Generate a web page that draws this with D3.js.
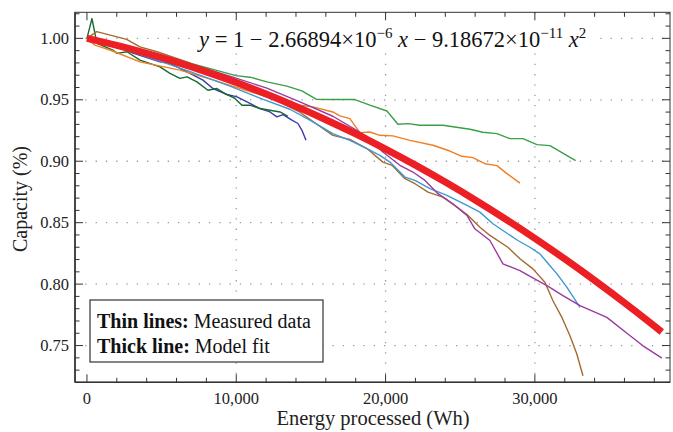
<!DOCTYPE html>
<html><head><meta charset="utf-8">
<script src="https://cdn.jsdelivr.net/npm/d3@7"></script>
<style>
body{margin:0;background:#fff;}
svg{display:block;font-family:"Liberation Serif","Times New Roman",serif;}
</style></head>
<body><svg id="chart" width="673" height="432"></svg>
<script>
// ---- data (x: Energy processed in Wh, y: capacity fraction) ----
const seriesNames = ["indigo","darkgreen","brown","orange","green","lightblue","purple"];
const seriesColors = ["#3b3ba6","#146b2e","#a36a2e","#f27d22","#3c9e47","#3f98d2","#9a3b9e"];
const indigoX = [0,1070,1880,3080,4890,5560,6900,7770,8440,9380,10050,10920,11590,12260,12720,13130,13730,14130,14400,14670];
const indigoY = [1.000,0.999,0.9945,0.988,0.9809,0.9796,0.9715,0.966,0.9592,0.9543,0.9524,0.947,0.9429,0.9401,0.9361,0.938,0.9334,0.9307,0.9252,0.917];
const darkgreenX = [0,335,670,1740,2010,2680,3550,4890,5560,6230,6700,7370,8100,8710,9240,9910,10380,10920,11590,12260,12930,13460];
const darkgreenY = [1.000,1.0161,0.9959,0.9905,0.9878,0.9891,0.9823,0.9768,0.9715,0.9674,0.9687,0.9646,0.9578,0.9592,0.9551,0.9511,0.9456,0.9456,0.9429,0.9415,0.9401,0.9366];
const brownX = [0,650,2660,3550,4690,6700,8910,11590,14260,16470,17610,18750,19820,20430,21300,21970,22840,23840,24780,25520,26320,26990,28190,29000,29870,30670,31210,31810,32350,32810,33220];
const brownY = [1.000,1.0055,0.9992,0.9931,0.9891,0.9809,0.9692,0.9562,0.9399,0.9211,0.9178,0.9103,0.8993,0.8967,0.8858,0.8817,0.8749,0.8708,0.8626,0.8559,0.8463,0.8396,0.83,0.8206,0.8124,0.8015,0.7865,0.7729,0.758,0.7431,0.7254];
const orangeX = [0,536,1540,3550,6230,8040,9980,12050,14260,15140,16470,16940,17610,18280,18950,19620,20490,21630,23170,24310,25110,25850,26650,27460,28130,29000];
const orangeY = [1.000,0.9945,0.9905,0.9809,0.9741,0.9676,0.9603,0.9524,0.9456,0.9442,0.9401,0.9369,0.9347,0.9233,0.9238,0.9211,0.9206,0.917,0.913,0.9083,0.904,0.9029,0.898,0.8964,0.8899,0.8822];
const greenX = [0,870,2210,4220,6900,9980,10920,12050,13390,14400,15340,16270,17950,18950,20090,20830,21500,22300,23840,25650,26520,27460,28330,29200,30140,31010,32730];
const greenY = [1.000,0.996,0.9929,0.9872,0.9799,0.9697,0.9684,0.9646,0.9611,0.9573,0.9505,0.9502,0.9502,0.9456,0.9409,0.9301,0.9306,0.9293,0.9293,0.926,0.9236,0.9225,0.9184,0.9184,0.9135,0.9127,0.9005];
const lightblueX = [0,870,2880,5560,7570,9580,11590,13590,14930,16470,17610,18750,19620,20290,21300,21970,22970,24110,25450,26320,27190,27860,28860,29670,30340,30810,31480,32150,33020];
const lightblueY = [1.000,0.9962,0.9896,0.9786,0.9701,0.9611,0.9513,0.9423,0.9334,0.9225,0.917,0.9103,0.9048,0.8993,0.8871,0.8844,0.8777,0.8722,0.864,0.8586,0.8491,0.8436,0.8355,0.83,0.8246,0.8178,0.8083,0.7974,0.7811];
const purpleX = [0,2210,4220,7570,9780,12050,14260,16470,18750,19820,20960,21830,22640,23510,24510,25450,25980,26990,27860,29000,29800,30810,31880,33020,34820,36230,37240,38510];
const purpleY = [1.000,0.9937,0.9888,0.9768,0.9684,0.9595,0.9483,0.9366,0.9203,0.9075,0.8967,0.8912,0.8844,0.8736,0.8654,0.8559,0.845,0.8355,0.8165,0.811,0.8055,0.7988,0.7906,0.7825,0.7729,0.7594,0.7498,0.7398];
const fitX = [0,2000,4000,6000,8000,10000,12000,14000,16000,18000,20000,22000,24000,26000,28000,30000,32000,34000,36000,38000,38500];
const fitY = [1.0,0.994295,0.987854,0.980679,0.972768,0.964124,0.954744,0.944629,0.933779,0.922194,0.909874,0.896819,0.883029,0.868506,0.853246,0.837252,0.820522,0.803058,0.784858,0.765923,0.761076];
// ticks
const xMajor = [0,10000,20000,30000];
const xMajorLabels = ["0","10,000","20,000","30,000"];
const xMinor = d3.range(0, 39001, 2000);
const yMajor = [0.75,0.80,0.85,0.90,0.95,1.00];
const yMajorLabels = ["0.75","0.80","0.85","0.90","0.95","1.00"];
const yMinor = d3.range(72, 103).map(d => d/100);
const xTitle = "Energy processed (Wh)";
const yTitle = "Capacity (%)";

const seriesX = [indigoX,darkgreenX,brownX,orangeX,greenX,lightblueX,purpleX];
const seriesY = [indigoY,darkgreenY,brownY,orangeY,greenY,lightblueY,purpleY];

// ---- layout ----
const L = 75, R = 670, T = 12.3, B = 382.3;
const svg = d3.select("#chart");
const x = d3.scaleLinear().domain([-800, 39050]).range([L, R]);
const y = d3.scaleLinear().domain([0.7201, 1.0212]).range([B, T]);

// gridlines
const grid = svg.append("g").attr("stroke","#9a9a9a").attr("stroke-width",1.3).attr("stroke-dasharray","1.3,9");
grid.selectAll("line.h").data(yMajor).join("line").attr("class","h")
  .attr("x1",L).attr("x2",R).attr("y1",d=>y(d)).attr("y2",d=>y(d));
grid.selectAll("line.v").data(xMajor.filter(d=>d>0)).join("line").attr("class","v")
  .attr("y1",T).attr("y2",B).attr("x1",d=>x(d)).attr("x2",d=>x(d));

// clip
svg.append("clipPath").attr("id","clip").append("rect").attr("x",L).attr("y",T).attr("width",R-L).attr("height",B-T);
const plot = svg.append("g").attr("clip-path","url(#clip)");
const line = d3.line().x(d=>x(d[0])).y(d=>y(d[1]));
seriesX.forEach((xs,i)=>{
  plot.append("path").datum(xs.map((v,j)=>[v, seriesY[i][j]]))
    .attr("fill","none").attr("stroke",seriesColors[i]).attr("stroke-width",1.4)
    .attr("stroke-linejoin","round").attr("d",line);
});
plot.append("path").datum(fitX.map((v,j)=>[v, fitY[j]]))
  .attr("fill","none").attr("stroke","#ec1f24").attr("stroke-width",7)
  .attr("d", d3.line().curve(d3.curveMonotoneX).x(d=>x(d[0])).y(d=>y(d[1])));

// equation with white backing
svg.append("rect").attr("x",193).attr("y",14).attr("width",402).attr("height",38).attr("fill","#fff");
const eq = svg.append("text").attr("x",199).attr("y",47).attr("font-size",22.5).attr("fill","#111");
eq.append("tspan").attr("font-style","italic").text("y");
eq.append("tspan").text(" = 1 \u2212 2.66894\u00d710");
eq.append("tspan").attr("dy",-9).attr("font-size",15).text("\u22126");
eq.append("tspan").attr("dy",9).attr("font-style","italic").text(" x");
eq.append("tspan").text(" \u2212 9.18672\u00d710");
eq.append("tspan").attr("dy",-9).attr("font-size",15).text("\u221211");
eq.append("tspan").attr("dy",9).attr("font-style","italic").text(" x");
eq.append("tspan").attr("dy",-9).attr("font-size",15).text("2");

// frame and ticks
const ax = svg.append("g").attr("stroke","#333");
ax.append("rect").attr("x",L).attr("y",T).attr("width",R-L).attr("height",B-T).attr("fill","none").attr("stroke-width",1);
ax.append("line").attr("x1",L).attr("x2",R).attr("y1",B).attr("y2",B).attr("stroke-width",1.6);
ax.append("line").attr("x1",L).attr("x2",L).attr("y1",T).attr("y2",B).attr("stroke-width",1.6);
const isMajX = d => d % 10000 === 0;
ax.selectAll("line.xb").data(xMinor).join("line").attr("class","xb")
  .attr("x1",d=>x(d)).attr("x2",d=>x(d)).attr("y1",B).attr("y2",d=>B-(isMajX(d)?8:4.5));
ax.selectAll("line.xt").data(xMinor).join("line").attr("class","xt")
  .attr("x1",d=>x(d)).attr("x2",d=>x(d)).attr("y1",T).attr("y2",d=>T+(isMajX(d)?8:4.5));
const isMajY = d => Math.round(d*100) % 5 === 0;
ax.selectAll("line.yl").data(yMinor).join("line").attr("class","yl")
  .attr("y1",d=>y(d)).attr("y2",d=>y(d)).attr("x1",L).attr("x2",d=>L+(isMajY(d)?8:4.5));
ax.selectAll("line.yr").data(yMinor).join("line").attr("class","yr")
  .attr("y1",d=>y(d)).attr("y2",d=>y(d)).attr("x1",R).attr("x2",d=>R-(isMajY(d)?8:4.5));

// tick labels
svg.append("g").selectAll("text").data(xMajor).join("text")
  .attr("x",d=>x(d)).attr("y",404).attr("text-anchor","middle").attr("font-size",16.5).attr("fill","#222")
  .text((d,i)=>xMajorLabels[i]);
svg.append("g").selectAll("text").data(yMajor).join("text")
  .attr("x",69).attr("y",d=>y(d)+5.5).attr("text-anchor","end").attr("font-size",16.5).attr("fill","#222")
  .text((d,i)=>yMajorLabels[i]);
svg.append("text").attr("x",373).attr("y",425).attr("text-anchor","middle").attr("font-size",20.5).attr("fill","#222").text(xTitle);
svg.append("text").attr("transform","translate(27,199) rotate(-90)").attr("text-anchor","middle").attr("font-size",20).attr("fill","#222").text(yTitle);

// legend box
svg.append("rect").attr("x",90).attr("y",300).attr("width",233).attr("height",62).attr("fill","#fff").attr("stroke","#333").attr("stroke-width",1.2);
const l1 = svg.append("text").attr("x",97).attr("y",328).attr("font-size",20).attr("fill","#111");
l1.append("tspan").attr("font-weight","bold").text("Thin lines:");
l1.append("tspan").text(" Measured data");
const l2 = svg.append("text").attr("x",97).attr("y",353).attr("font-size",20).attr("fill","#111");
l2.append("tspan").attr("font-weight","bold").text("Thick line:");
l2.append("tspan").text(" Model fit");
</script></body></html>
